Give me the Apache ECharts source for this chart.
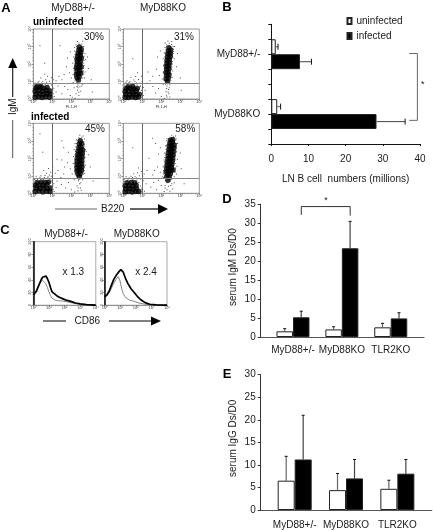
<!DOCTYPE html>
<html><head><meta charset="utf-8">
<style>html,body{margin:0;padding:0;background:#fff}#c{width:433px;height:530px}</style>
<script src="https://cdn.jsdelivr.net/npm/echarts@6/dist/echarts.min.js"></script>
</head><body><div id="c"></div>
<script>
// ---- Panel A: flow cytometry dots, [log10 B220, log10 IgM], read by eye
const a1Dense=[[.1,.1],[.28,.12],[.47,.09],[.66,.13],[.85,.1],[.13,.28],[.33,.3],[.52,.26],[.71,.3],[.88,.28],[.1,.46],[.3,.48],[.5,.45],[.69,.49],[.86,.46],[.14,.63],[.35,.66],[.55,.62],[.73,.66],[.4,.72],[.2,.72],
[2.38,1.08],[2.3,1.22],[2.42,1.27],[2.27,1.4],[2.38,1.43],[2.5,1.47],[2.3,1.6],[2.45,1.63],[2.27,1.78],[2.4,1.8],[2.52,1.84],[2.3,1.95],[2.45,1.99],[2.32,2.12],[2.48,2.15],[2.3,2.28],[2.42,2.3],[2.53,2.35],[2.33,2.45],[2.47,2.5],[2.36,2.62],[2.5,2.66],[2.4,2.8],[2.52,2.84],[2.42,2.98]];
const a1Sparse=[[1.1,.15],[1.2,.4],[1.08,.62],[1.3,.75],[.1,.92],[.3,1.02],[.5,.98],[.65,1.1],[.85,1.02],[.95,1.22],[.75,1.3],[.4,1.2],[.6,1.42],[1.05,1.1],[1.2,1.05],[1.02,.88],[1.5,.3],[1.65,.72],[1.82,.55],[1.95,.2],[2.05,.1],[2.2,.05],[2.25,.3],[2.4,.2],[2.33,.5],[2.5,.45],[2.45,.7],[2.3,.72],[2.6,.85],[2.15,.65],[2.1,.95],[2,1.2],[1.9,1.5],[1.75,1.85],[1.5,1.1],[1.35,1.3],[1.62,1.4],[2.1,1.4],[2.13,1.75],[2.08,2.05],[2.12,2.4],[2.17,2.75],[2.7,1.2],[2.72,1.55],[2.68,1.9],[2.75,2.25],[2.72,2.6],[2.65,3],[2.55,3.15],[2.4,3.2],[2.25,3.1],[2.32,3.28],[2.6,3.3],[2.18,2.95],[2.85,2.4],[2.9,1.75],[3.05,1.1],[1.8,2.35],[1.95,2.7],[1.4,3.05],[.6,2.05],[.35,3.05],[3.1,.4]];
const a1Halo=[[.05,.85],[.2,.88],[.35,.84],[.5,.87],[.62,.83],[.78,.86],[.95,.8],[1.03,.5],[1.05,.3],[1.02,.12],[.92,.6],[.25,.95],[.45,.92],[.7,.96],[2.2,1.05],[2.18,1.25],[2.16,1.5],[2.15,1.65],[2.18,1.9],[2.2,2.15],[2.18,2.3],[2.2,2.55],[2.24,2.7],[2.27,2.85],[2.6,1.2],[2.62,1.4],[2.64,1.6],[2.63,1.75],[2.65,2.05],[2.66,2.2],[2.67,2.45],[2.64,2.75],[2.62,2.9],[2.3,.95],[2.45,.9],[2.35,.8],[2.28,3],[2.4,3.08],[2.5,3.05],[2.58,3],[2.34,.65],[2.55,.75],[2.4,.38]];
const a2Dense=[[.1,.1],[.27,.08],[.46,.12],[.64,.08],[.8,.12],[.13,.27],[.33,.25],[.52,.29],[.7,.24],[.85,.28],[.1,.44],[.3,.46],[.49,.42],[.68,.46],[.15,.6],[.36,.62],[.56,.58],[.74,.6],[.25,.7],[.5,.72],
[2.33,1.0],[2.25,1.15],[2.37,1.2],[2.28,1.35],[2.4,1.38],[2.25,1.52],[2.37,1.55],[2.28,1.7],[2.4,1.73],[2.27,1.87],[2.4,1.9],[2.3,2.05],[2.43,2.07],[2.3,2.22],[2.43,2.26],[2.33,2.4],[2.47,2.43],[2.34,2.58],[2.48,2.6],[2.37,2.75],[2.5,2.8],[2.4,2.93]];
const a2Sparse=[[.9,.75],[1.05,.2],[1.15,.5],[1.05,.66],[.1,.9],[.3,.95],[.48,.9],[.7,.92],[.88,.9],[.2,1.05],[.55,1.08],[.8,1.12],[1,1],[.95,1.3],[.65,1.28],[.4,1.25],[.75,1.5],[1.25,.9],[1.4,1.05],[1.55,.72],[1.7,.35],[1.85,.6],[2,.15],[2.15,.05],[2.3,.12],[2.4,.3],[2.25,.42],[2.38,.55],[2.3,.75],[2.45,.82],[2.1,.82],[2.05,1.15],[1.9,1.35],[1.75,1.7],[2.1,1.55],[2.12,1.95],[2.1,2.3],[2.15,2.65],[2.2,2.95],[2.57,1.25],[2.6,1.6],[2.58,2],[2.68,2.3],[2.65,2.7],[2.7,3],[2.55,3.12],[2.42,3.18],[2.28,3.1],[2.35,3.32],[2.55,3.28],[2.2,3.2],[2.85,2.6],[2.8,1.85],[3,1.2],[1.8,2.4],[1.95,2.75],[1.55,1.3],[1.3,1.55],[3.05,.5],[.5,2.3]];
const a2Halo=[[.05,.8],[.2,.84],[.38,.82],[.55,.85],[.72,.8],[.88,.7],[.95,.5],[.98,.3],[.95,.12],[.15,.97],[.35,1],[.62,.98],[2.17,1.1],[2.14,1.3],[2.13,1.5],[2.16,1.75],[2.15,1.9],[2.18,2.12],[2.17,2.4],[2.2,2.6],[2.25,2.85],[2.5,1.05],[2.52,1.25],[2.53,1.45],[2.54,1.7],[2.55,1.85],[2.58,2.15],[2.6,2.4],[2.62,2.6],[2.63,2.85],[2.62,3],[2.3,3],[2.4,3.05],[2.5,3],[2.35,.9],[2.22,.85],[2.42,.65],[2.28,.6],[2.36,.4],[2.27,.22],[2.45,.12]];
const a3Dense=[[.1,.1],[.3,.13],[.5,.08],[.7,.12],[.88,.1],[.14,.3],[.33,.28],[.53,.31],[.72,.28],[.9,.31],[.12,.47],[.32,.49],[.52,.46],[.72,.5],[.2,.62],[.42,.64],[.62,.62],[.8,.64],
[2.42,.95],[2.35,1.1],[2.47,1.12],[2.3,1.28],[2.42,1.3],[2.54,1.3],[2.3,1.46],[2.43,1.48],[2.56,1.5],[2.3,1.65],[2.43,1.67],[2.55,1.69],[2.3,1.84],[2.43,1.86],[2.55,1.88],[2.32,2.03],[2.45,2.05],[2.57,2.08],[2.34,2.22],[2.46,2.25],[2.58,2.28],[2.36,2.42],[2.48,2.44],[2.6,2.48],[2.4,2.62],[2.52,2.65],[2.42,2.82],[2.54,2.85],[2.47,3]];
const a3Sparse=[[1.1,.1],[1.2,.33],[1.08,.55],[1.25,.7],[.05,.82],[.25,.85],[.5,.84],[.75,.88],[.98,.85],[.15,.98],[.4,1],[.62,1.02],[.85,1.05],[1.02,1],[.7,1.15],[.92,1.2],[.55,1.3],[.8,1.42],[1.02,1.5],[1.15,1.15],[1.3,1.3],[1.45,.9],[1.6,1.1],[1.48,.5],[1.7,.3],[1.85,.62],[2,.2],[2.18,.08],[2.35,.15],[2.48,.3],[2.3,.42],[2.5,.6],[2.38,.72],[2.6,.78],[2.15,.78],[2.05,1.1],[1.95,1.4],[1.8,1.75],[1.65,1.5],[1.5,1.9],[2.1,1.7],[2.12,2.1],[2.15,2.5],[2.2,2.85],[2.7,1.15],[2.75,1.6],[2.72,2.05],[2.78,2.4],[2.7,2.8],[2.7,3.1],[2.55,3.2],[2.4,3.18],[2.27,3.05],[2.45,3.32],[2.62,3.27],[2.9,2.2],[3,1.5],[3.15,.7],[1.85,2.35],[1.6,2.6],[1.25,1.95],[.5,2.35],[.35,3.4],[1.5,3]];
const a3Halo=[[.08,.78],[.22,.8],[.38,.76],[.52,.79],[.68,.75],[.88,.78],[1,.62],[1.03,.42],[1.05,.2],[.95,.7],[.35,.92],[.58,.9],[.78,.95],[.95,.98],[2.2,1.1],[2.18,1.3],[2.17,1.5],[2.16,1.72],[2.18,1.95],[2.2,2.2],[2.22,2.4],[2.24,2.65],[2.28,2.85],[2.65,1.1],[2.67,1.3],[2.68,1.5],[2.67,1.8],[2.68,2],[2.7,2.25],[2.72,2.5],[2.68,2.7],[2.66,2.95],[2.35,3.02],[2.45,3.12],[2.56,3.06],[2.4,.8],[2.5,.85],[2.3,.95],[2.55,.95],[2.44,.55],[2.36,.3],[2.52,.18]];
const a4Dense=[[.1,.08],[.28,.1],[.47,.07],[.66,.1],[.82,.1],[.12,.26],[.32,.28],[.5,.25],[.7,.27],[.1,.43],[.3,.45],[.5,.42],[.68,.46],[.2,.6],[.42,.62],[.6,.6],
[2.35,.75],[2.42,.92],[2.28,.95],[2.35,1.1],[2.48,1.12],[2.25,1.22],[2.37,1.28],[2.5,1.3],[2.62,1.33],[2.28,1.42],[2.4,1.46],[2.53,1.48],[2.3,1.6],[2.43,1.63],[2.56,1.65],[2.32,1.78],[2.45,1.8],[2.58,1.83],[2.34,1.96],[2.47,1.98],[2.6,2.02],[2.36,2.14],[2.49,2.17],[2.62,2.2],[2.38,2.33],[2.5,2.36],[2.63,2.38],[2.4,2.52],[2.53,2.55],[2.66,2.58],[2.42,2.7],[2.55,2.73],[2.68,2.76],[2.45,2.88],[2.58,2.92],[2.48,3.04],[2.6,3.08]];
const a4Sparse=[[1,.3],[1.12,.12],[1.2,.55],[1.05,.72],[.05,.78],[.25,.8],[.5,.78],[.72,.76],[.92,.82],[.15,.95],[.4,.97],[.62,.95],[.85,1],[1.02,.98],[.55,1.12],[.75,1.18],[.95,1.25],[.8,1.45],[1.1,1.1],[1.25,1.3],[1.4,.85],[1.55,1.05],[1.45,.35],[1.6,.62],[1.75,.2],[1.85,.75],[2,.45],[2.15,.1],[2.3,.2],[2.45,.12],[2.6,.25],[2.5,.45],[2.68,.6],[2.2,.45],[2.05,.95],[1.95,1.2],[1.8,1.5],[1.65,1.3],[2.1,1.5],[2.15,1.9],[2.18,2.3],[2.22,2.7],[2.28,3],[2.8,1.1],[2.82,1.55],[2.85,1.95],[2.8,2.4],[2.85,2.85],[2.78,3.1],[2.65,3.22],[2.45,3.2],[2.3,3.12],[2.55,3.32],[2.75,3.28],[3,2.3],[3.05,1.4],[3.2,.55],[1.85,2.25],[1.95,2.6],[1.7,2.85],[1.35,2],[.5,2.6],[1.55,3.15]];
const a4Halo=[[.05,.68],[.22,.72],[.36,.7],[.52,.73],[.68,.66],[.82,.62],[.9,.42],[.95,.25],[.92,.1],[.1,.85],[.3,.88],[.48,.9],[.7,.88],[2.12,.9],[2.1,1.1],[2.12,1.3],[2.14,1.55],[2.17,1.8],[2.18,2.05],[2.22,2.25],[2.25,2.5],[2.28,2.75],[2.72,1.2],[2.75,1.45],[2.73,1.7],[2.76,1.9],[2.75,2.15],[2.78,2.35],[2.8,2.6],[2.78,2.85],[2.72,3],[2.38,3],[2.4,3.12],[2.55,3.18],[2.68,3.15],[2.22,.72],[2.3,.6],[2.45,.68],[2.55,.8],[2.68,.95],[2.2,.3],[2.38,.4],[2.55,.55]];
const gateX=[1,1,1,1];
const gateY=[.91,.91,.86,.86];
const panelATitles=['MyD88+/-','MyD88KO'];
const percents=['30%','31%','45%','58%'];
// ---- Panel B
const bCategories=['MyD88+/-','MyD88KO'];
const bUninfected=[1.2,1.6];
const bUninfectedErr=[1.8,2.5];
const bInfected=[7.7,28.3];
const bInfectedErr=[10.8,36];
const bBracket=[[37.1,1.95],[39.3,1.95],[39.3,6.42],[37.1,6.42]];
// ---- Panel C: histograms, [log10 CD86, % of max]
const c1Thick=[[0,16],[.1,18],[.2,22],[.3,28],[.4,34],[.5,40],[.6,44],[.7,45],[.8,46],[.9,42],[1,36],[1.1,28],[1.2,21],[1.3,18],[1.5,15],[1.7,12],[1.9,10],[2.1,8],[2.4,6],[2.7,3.5],[3,2],[3.4,.8],[4,0]];
const c1Thin=[[0,15],[.1,18],[.2,24],[.3,30],[.4,35],[.5,38],[.6,39],[.7,38],[.8,34],[.9,28],[1,21],[1.1,15],[1.2,11],[1.4,8],[1.6,7],[1.9,6.5],[2.2,5],[2.6,3],[3,1.5],[3.5,.5],[4,0]];
const c2Thick=[[0,13],[.15,16],[.3,22],[.45,32],[.6,41],[.75,47],[.9,52],[1.05,56],[1.2,52],[1.35,42],[1.5,34],[1.7,26],[1.9,20],[2.1,14],[2.3,9],[2.6,4],[2.9,1.5],[3.3,.5],[4,0]];
const c2Thin=[[0,13],[.15,15],[.3,20],[.45,27],[.6,35],[.75,41],[.88,45],[1,38],[1.1,26],[1.2,18],[1.35,12],[1.6,8],[1.9,6],[2.2,3.5],[2.6,1.5],[3,.5],[4,0]];
// ---- Panels D, E
const serumCategories=['MyD88+/-','MyD88KO','TLR2KO'];
const dUninfected=[1.5,2.0,2.55];
const dUninfectedErr=[2.2,2.7,3.6];
const dInfected=[5.2,23.4,4.9];
const dInfectedErr=[6.8,30.5,6.4];
const dBracket=[[.17,32.2],[.17,34.4],[1.17,34.4],[1.17,32]];
const eUninfected=[6.5,4.4,4.7];
const eUninfectedErr=[11.9,8.1,6.6];
const eInfected=[11.2,7.0,8.05];
const eInfectedErr=[21,11.2,11.2];

const FONT='"Liberation Sans",Arial,sans-serif';
const INK='#1a1a1a';
const grid=[],xAxis=[],yAxis=[],series=[],graphic=[];

function addGrid(g){grid.push(g);return grid.length-1;}
function sup(i){return '10'+'⁰¹²³⁴'[i];}
function logX(gi,name){
  xAxis.push({gridIndex:gi,type:'value',min:0,max:4,interval:1,
    name:name||'',nameLocation:'middle',nameGap:6,nameTextStyle:{fontSize:4,color:'#333',fontFamily:FONT},
    axisLine:{show:true,onZero:false,lineStyle:{color:'#999',width:1}},
    axisTick:{show:true,length:2,lineStyle:{color:'#555',width:.6}},
    minorTick:{show:true,splitNumber:5,length:1,lineStyle:{color:'#777',width:.5}},
    axisLabel:{show:true,fontSize:4,margin:1,color:'#444',fontFamily:FONT,formatter:v=>sup(v)},splitLine:{show:false}});
  return xAxis.length-1;
}
function yScale(gi,max,step,fmt,line){
  yAxis.push({gridIndex:gi,type:'value',min:0,max:max,interval:step,
    axisLine:{show:true,onZero:false,lineStyle:line||{color:'#999',width:1}},
    axisTick:{show:true,length:2,lineStyle:{color:'#555',width:.6}},
    minorTick:{show:max===4,splitNumber:5,length:1,lineStyle:{color:'#777',width:.5}},
    axisLabel:{show:true,fontSize:4,margin:1,rotate:90,color:'#444',fontFamily:FONT,formatter:fmt},splitLine:{show:false}});
  return yAxis.length-1;
}
// Panel A
const aPanels=[[a1Dense,a1Sparse,a1Halo,33.3,29,'FL1-H'],[a2Dense,a2Sparse,a2Halo,123.3,29,'FL1-H'],[a3Dense,a3Sparse,a3Halo,33.3,123.3,''],[a4Dense,a4Sparse,a4Halo,123.3,123.3,'']];
aPanels.forEach((p,i)=>{
  const gi=addGrid({left:p[3],top:p[4],width:76,height:70,show:true,borderColor:'#999',borderWidth:1,backgroundColor:'#fff'});
  const xi=logX(gi,p[5]),yi=yScale(gi,4,1,v=>sup(Math.round(v)));
  series.push({type:'scatter',name:'gated',xAxisIndex:xi,yAxisIndex:yi,data:p[0],symbol:'circle',symbolSize:5.4,itemStyle:{color:'#000'},silent:true,z:3,
    markLine:{silent:true,symbol:'none',label:{show:false},animation:false,z:4,lineStyle:{color:'#666',width:1,type:'solid'},
      data:[{xAxis:gateX[i]},{yAxis:gateY[i],lineStyle:{color:'#888',width:1.2,type:'solid'}}]}});
  series.push({type:'scatter',name:'events',xAxisIndex:xi,yAxisIndex:yi,data:p[1],symbol:'rect',symbolSize:1,itemStyle:{color:'#222'},silent:true,z:3});
  series.push({type:'scatter',name:'halo',xAxisIndex:xi,yAxisIndex:yi,data:p[2],symbol:'rect',symbolSize:1,itemStyle:{color:'#222'},silent:true,z:3});
});
// Error-bar helpers
function errRenderer(off,color,horizontal){
  return function(params,api){
    const a=api.value(0),v=api.value(1),e=api.value(2);
    if(horizontal){
      const band=api.size([0,a])[1],o=off*band;
      const p0=api.coord([v,a]),p1=api.coord([e,a]);
      return {type:'group',children:[
        {type:'line',shape:{x1:p0[0],y1:p0[1]+o,x2:p1[0],y2:p1[1]+o},style:{stroke:color,lineWidth:1.1}},
        {type:'line',shape:{x1:p1[0],y1:p1[1]+o-3,x2:p1[0],y2:p1[1]+o+3},style:{stroke:'#111',lineWidth:1}}]};
    }
    const p0=api.coord([a,v]),p1=api.coord([a,e]);
    return {type:'group',children:[
      {type:'line',shape:{x1:p0[0]+off,y1:p0[1],x2:p1[0]+off,y2:p1[1]},style:{stroke:color,lineWidth:1.2}},
      {type:'line',shape:{x1:p1[0]+off-1.5,y1:p1[1],x2:p1[0]+off+1.5,y2:p1[1]},style:{stroke:'#111',lineWidth:1}}]};
  };
}
const barWhite={color:'#fff',borderColor:'#222',borderWidth:1};
const barBlack={color:'#000',borderColor:'#222',borderWidth:1};
// Panel B
{
  const gi=addGrid({left:271.3,top:24.3,width:148.7,height:119.7});
  xAxis.push({gridIndex:gi,type:'value',min:0,max:40,interval:10,name:'LN B cell  numbers (millions)',nameLocation:'middle',nameGap:30,
    nameTextStyle:{fontSize:10,color:INK,fontFamily:FONT},
    axisLine:{show:true,onZero:false,lineStyle:{color:'#111',width:1}},axisTick:{show:true,length:2,lineStyle:{color:'#111'}},
    axisLabel:{fontSize:10,color:INK,margin:10,fontFamily:FONT},splitLine:{show:false}});
  const xi=xAxis.length-1;
  yAxis.push({gridIndex:gi,type:'category',data:bCategories,inverse:true,
    axisLine:{show:true,onZero:false,lineStyle:{color:'#111',width:1}},axisTick:{show:false},
    axisLabel:{fontSize:10,color:INK,margin:11,fontFamily:FONT},splitLine:{show:false}});
  const yc=yAxis.length-1;
  yAxis.push({gridIndex:gi,type:'value',min:0,max:8,interval:1,inverse:true,position:'left',
    axisLine:{show:false},axisTick:{show:true,length:3,lineStyle:{color:'#111'}},axisLabel:{show:false},splitLine:{show:false}});
  const yv=yAxis.length-1;
  series.push({type:'bar',name:'uninfected',xAxisIndex:xi,yAxisIndex:yc,data:bUninfected,barWidth:'25%',barGap:'0%',itemStyle:barWhite,silent:true});
  series.push({type:'bar',name:'infected',xAxisIndex:xi,yAxisIndex:yc,data:bInfected,barWidth:'25%',barGap:'0%',itemStyle:barBlack,silent:true});
  series.push({type:'custom',name:'uninfected SD',xAxisIndex:xi,yAxisIndex:yc,encode:{x:[1,2],y:0},silent:true,z:5,
    data:bUninfected.map((v,i)=>[i,v,bUninfectedErr[i]]),renderItem:errRenderer(-.125,'#666',true)});
  series.push({type:'custom',name:'infected SD',xAxisIndex:xi,yAxisIndex:yc,encode:{x:[1,2],y:0},silent:true,z:5,
    data:bInfected.map((v,i)=>[i,v,bInfectedErr[i]]),renderItem:errRenderer(.125,'#555',true)});
  series.push({type:'line',name:'significance',xAxisIndex:xi,yAxisIndex:yv,data:bBracket,showSymbol:false,silent:true,clip:false,lineStyle:{color:'#666',width:1}});
}
// Panel C
[[c1Thick,c1Thin,33.3],[c2Thick,c2Thin,104.5]].forEach(p=>{
  const gi=addGrid({left:p[2],top:241.7,width:62.5,height:63.5,show:true,borderColor:'#aaa',borderWidth:1});
  const xi=logX(gi,'');
  const yi=yScale(gi,100,20,v=>String(v),{color:'#000',width:1.5});
  series.push({type:'line',name:'control histogram',xAxisIndex:xi,yAxisIndex:yi,data:p[1],showSymbol:false,silent:true,lineStyle:{color:'#777',width:.9},z:3});
  series.push({type:'line',name:'infected histogram',xAxisIndex:xi,yAxisIndex:yi,data:p[0],showSymbol:false,silent:true,lineStyle:{color:'#000',width:1.7},z:4});
});
// Panels D, E
function serum(gridBox,yMax,yName,xMin,xMax,bw,nameShift,u,uE,inf,infE,labelMargin){
  const gi=addGrid(gridBox);
  xAxis.push({gridIndex:gi,type:'value',min:xMin,max:xMax,
    axisLine:{show:true,onZero:false,lineStyle:{color:'#555',width:1.2}},axisTick:{show:false},
    axisLabel:{fontSize:10,color:INK,margin:labelMargin,fontFamily:FONT,customValues:[0,1,2],formatter:v=>serumCategories[Math.round(v)],hideOverlap:false},splitLine:{show:false}});
  const xi=xAxis.length-1;
  yAxis.push({gridIndex:gi,type:'value',min:0,max:yMax,interval:5,name:yName,nameLocation:'middle',nameGap:22,nameRotate:90,
    nameTextStyle:{fontSize:10,color:INK,fontFamily:FONT,padding:[0,0,0,nameShift]},
    axisLine:{show:true,onZero:false,lineStyle:{color:'#333',width:1}},axisTick:{show:true,length:3,lineStyle:{color:'#333'}},
    axisLabel:{fontSize:10,color:INK,margin:5,fontFamily:FONT},splitLine:{show:false}});
  const yi=yAxis.length-1;
  const pair=a=>a.map((v,i)=>[i,v]);
  series.push({type:'bar',name:'uninfected',xAxisIndex:xi,yAxisIndex:yi,data:pair(u),barWidth:bw,barGap:'0%',itemStyle:barWhite,silent:true});
  series.push({type:'bar',name:'infected',xAxisIndex:xi,yAxisIndex:yi,data:pair(inf),barWidth:bw,barGap:'0%',itemStyle:barBlack,silent:true});
  series.push({type:'custom',name:'uninfected SD',xAxisIndex:xi,yAxisIndex:yi,encode:{x:0,y:[1,2]},silent:true,z:1,
    data:u.map((v,i)=>[i,v,uE[i]]),renderItem:errRenderer(-bw/2,'#666',false)});
  series.push({type:'custom',name:'infected SD',xAxisIndex:xi,yAxisIndex:yi,encode:{x:0,y:[1,2]},silent:true,z:1,
    data:inf.map((v,i)=>[i,v,infE[i]]),renderItem:errRenderer(bw/2,'#444',false)});
  return [xi,yi];
}
const dAx=serum({left:260.7,top:204.3,width:163.3,height:132.7},35,'serum IgM Ds/D0',-.66,2.68,16.5,7,dUninfected,dUninfectedErr,dInfected,dInfectedErr,8);
series.push({type:'line',name:'significance',xAxisIndex:dAx[0],yAxisIndex:dAx[1],data:dBracket,showSymbol:false,silent:true,clip:false,lineStyle:{color:'#333',width:1}});
serum({left:260.7,top:374.7,width:171,height:135.3},30,'serum IgG Ds/D0',-.662,2.669,17,8,eUninfected,eUninfectedErr,eInfected,eInfectedErr,10);

// Annotations
function T(x,y,s,o){graphic.push(Object.assign({type:'text',x:x,y:y,silent:true,style:Object.assign({text:s,font:'10px '+FONT,fill:INK,textAlign:'center',textVerticalAlign:'middle'},o&&o.style||{})},o&&o.rot!==undefined?{rotation:o.rot}:{}));}
function L(x1,y1,x2,y2,c,w){graphic.push({type:'line',silent:true,shape:{x1,y1,x2,y2},style:{stroke:c,lineWidth:w}});}
function H(pts){graphic.push({type:'polygon',silent:true,shape:{points:pts},style:{fill:'#000'}});}
const bold={style:{font:'bold 13px '+FONT,fill:'#000'}};
T(6,8,'A',bold);T(227,7,'B',bold);T(5,230,'C',bold);T(227,199,'D',bold);T(227,374,'E',bold);
T(73,8,panelATitles[0]);T(163,8,panelATitles[1]);
T(33,22,'uninfected',{style:{font:'bold 10px '+FONT,textAlign:'left',fill:'#000'}});
T(31,117,'infected',{style:{font:'bold 10px '+FONT,textAlign:'left',fill:'#000'}});
T(94,37,percents[0]);T(184,37,percents[1]);T(95,129,percents[2]);T(185.3,129,percents[3]);
T(13,106.7,'IgM',{rot:Math.PI/2});
L(12.7,158,12.7,120,'#555',1);L(12.7,97,12.7,66,'#222',1.2);H([[12.7,58],[8.2,68],[17.2,68]]);
T(112.7,209,'B220');
L(55,209,97,209,'#666',1.2);L(130,209,160,209,'#000',1.2);H([[168,209],[158,204],[158,214]]);
T(66,234,panelATitles[0]);T(136.7,234,panelATitles[1]);
T(73.3,272.7,'x 1.3');T(146,272.7,'x 2.4');
T(87.3,321,'CD86');
L(43,321,66,321,'#000',1);L(109,321,153,321,'#000',1);H([[161,321],[151,316.5],[151,325.5]]);
T(422.7,85,'*',{style:{font:'9px '+FONT}});
T(326,201,'*',{style:{font:'9px '+FONT}});

const chart=echarts.init(document.getElementById('c'),null,{renderer:'canvas'});
chart.setOption({animation:false,backgroundColor:'#fff',textStyle:{fontFamily:FONT},
  legend:{left:346.5,top:16,padding:0,orient:'vertical',icon:'rect',itemWidth:4,itemHeight:6,itemGap:5,selectedMode:false,data:['uninfected','infected'],
    textStyle:{fontSize:10,color:INK,fontFamily:FONT}},
  tooltip:{show:false},grid,xAxis,yAxis,series,graphic});
</script></body></html>
